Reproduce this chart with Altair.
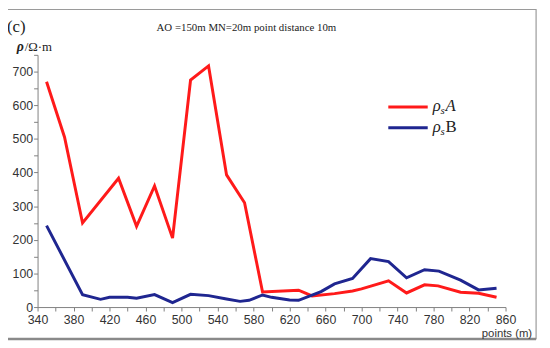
import altair as alt
import pandas as pd

# ---- data ----
red_x = [350, 370, 390, 430, 450, 470, 490, 510, 530, 550, 570, 590, 630, 645, 670, 690, 700, 730, 750, 770, 785, 810, 830, 850]
red_y = [670, 505, 250, 383, 240, 360, 205, 675, 717, 393, 310, 45, 50, 33, 40, 48, 54, 78, 42, 66, 63, 44, 41, 29]
blue_x = [350, 390, 410, 420, 440, 450, 470, 490, 510, 530, 550, 565, 575, 590, 600, 620, 630, 655, 670, 690, 710, 730, 750, 770, 786, 810, 830, 850]
blue_y = [242, 37, 23, 29, 29, 26, 37, 13, 38, 34, 24, 17, 20, 36, 29, 21, 20, 46, 69, 85, 144, 135, 87, 111, 107, 80, 51, 56]

x_ticks = list(range(340, 861, 20))
y_ticks = list(range(0, 751, 50))
series_names = ["A", "B"]
series_colors = ["#ff1a1a", "#1f2690"]
title_text = ["AO =150m MN=20m point distance 10m"]
panel_label = ["(c)"]
y_sym = ["\u03c1"]
y_unit = ["/\u03a9\u00b7m"]
x_title = ["points (m)"]

W, H = 475, 256

df = pd.concat([
    pd.DataFrame({"x": red_x, "v": red_y, "s": series_names[0]}),
    pd.DataFrame({"x": blue_x, "v": blue_y, "s": series_names[1]}),
])

xs = alt.Scale(domain=[340, 860], nice=False, zero=False)
ys = alt.Scale(domain=[0, 750], nice=False)

axis_common = dict(grid=False, tickSize=4, domainColor="#808080", tickColor="#808080",
                   labelColor="#333333", labelFont="Liberation Sans",
                   title=None, domainWidth=1, labelFlush=False, labelOverlap=False)

lines = alt.Chart(df).mark_line(strokeWidth=3, clip=False).encode(
    x=alt.X("x:Q", scale=xs, axis=alt.Axis(values=x_ticks, labelFontSize=12.5,
            labelExpr="datum.value % 40 == 0 ? '' : datum.label", labelPadding=3, **axis_common)),
    y=alt.Y("v:Q", scale=ys, axis=alt.Axis(values=y_ticks, labelFontSize=12.5,
            labelExpr="datum.value % 100 == 0 ? datum.label : ''", labelPadding=1, **axis_common)),
    color=alt.Color("s:N", scale=alt.Scale(domain=series_names, range=series_colors), legend=None),
    detail="s:N",
)

one = pd.DataFrame({"a": [0]})

frame = alt.Chart(one).mark_rect(fill="transparent", stroke="#9a9a9a", strokeWidth=1.2).encode(
    x=alt.value(-31), x2=alt.value(506), y=alt.value(-46), y2=alt.value(288))
frame_bottom = alt.Chart(one).mark_rule(stroke="#8a8a8a", strokeWidth=2.5).encode(
    x=alt.value(-31), x2=alt.value(506), y=alt.value(288.5))

title = alt.Chart(pd.DataFrame({"t": title_text})).mark_text(
    font="Liberation Serif", fontSize=11, color="#222", align="center", baseline="middle").encode(
    text="t:N", x=alt.value(212), y=alt.value(-27))

plabel = alt.Chart(pd.DataFrame({"t": panel_label})).mark_text(
    font="Liberation Serif", fontSize=17, color="#222", align="left", baseline="middle").encode(
    text="t:N", x=alt.value(-31), y=alt.value(-28))

ysym = alt.Chart(pd.DataFrame({"t": y_sym})).mark_text(
    font="Liberation Serif", fontSize=14, fontStyle="italic", fontWeight="bold", color="#222",
    align="left", baseline="middle").encode(text="t:N", x=alt.value(-21), y=alt.value(-8))
yunit = alt.Chart(pd.DataFrame({"t": y_unit})).mark_text(
    font="Liberation Serif", fontSize=13, color="#222", align="left", baseline="middle").encode(
    text="t:N", x=alt.value(-13), y=alt.value(-8))

xt = alt.Chart(pd.DataFrame({"t": x_title})).mark_text(
    font="Liberation Sans", fontSize=11.5, color="#333", align="right", baseline="middle").encode(
    text="t:N", x=alt.value(502), y=alt.value(283))

# legend
leg_layers = []
for i, (name, col) in enumerate(zip(series_names, series_colors)):
    yy = 53 + 21 * i
    leg_layers.append(alt.Chart(one).mark_rule(stroke=col, strokeWidth=3).encode(
        x=alt.value(356), x2=alt.value(396), y=alt.value(yy)))
    leg_layers.append(alt.Chart(pd.DataFrame({"t": y_sym})).mark_text(
        font="Liberation Serif", fontSize=17, fontStyle="italic", color="#222",
        align="left", baseline="alphabetic").encode(text="t:N", x=alt.value(401), y=alt.value(yy + 4)))
    leg_layers.append(alt.Chart(pd.DataFrame({"t": ["s"]})).mark_text(
        font="Liberation Serif", fontSize=11, fontStyle="italic", color="#222",
        align="left", baseline="alphabetic").encode(text="t:N", x=alt.value(409), y=alt.value(yy + 7)))
    leg_layers.append(alt.Chart(pd.DataFrame({"t": [name]})).mark_text(
        font="Liberation Serif", fontSize=17, fontStyle="italic" if name == "A" else "normal",
        color="#222", align="left", baseline="alphabetic").encode(
        text="t:N", x=alt.value(414), y=alt.value(yy + 4)))

chart = alt.layer(frame, frame_bottom, lines, title, plabel, ysym, yunit, xt, *leg_layers).properties(
    width=W, height=H,
    autosize=alt.AutoSizeParams(type="none"),
    padding={"left": 30, "top": 45, "right": 37, "bottom": 39},
    background="white",
).configure_view(strokeWidth=0)

chart.save("out.html", embed_options={"renderer": "svg", "actions": False})
